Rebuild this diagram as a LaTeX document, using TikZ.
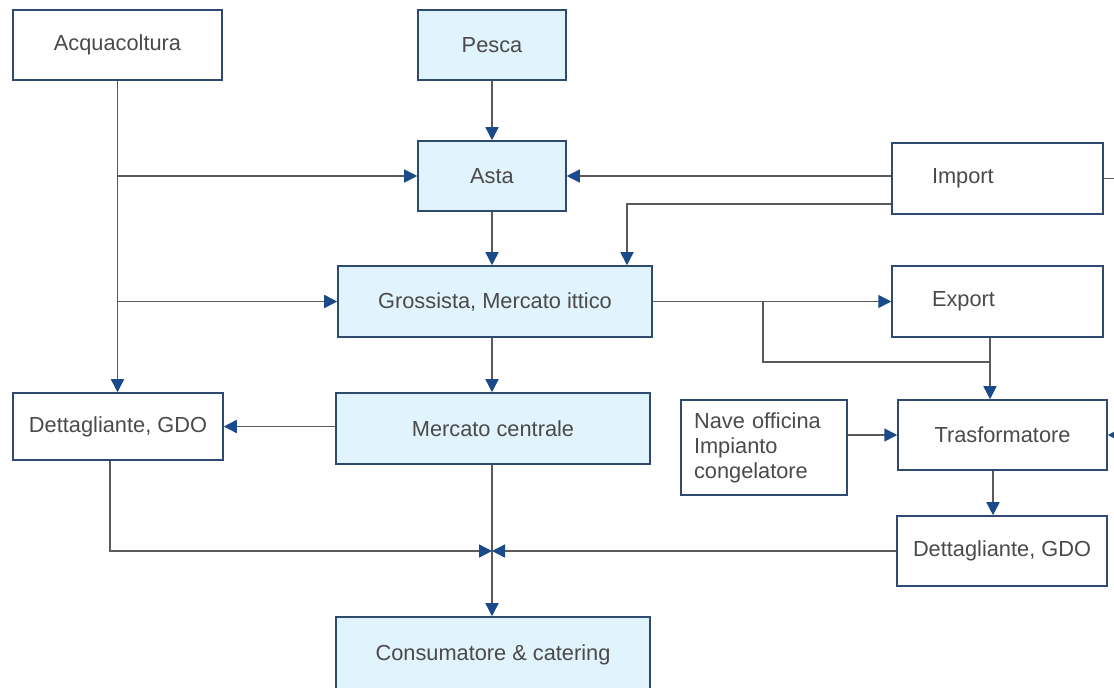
\documentclass[tikz,border=0pt]{standalone}
\usepackage{fontspec}
\setmainfont{Liberation Sans}
\usetikzlibrary{arrows.meta}

\definecolor{boxline}{HTML}{2E4A6E}
\definecolor{boxfill}{HTML}{E1F3FC}
\definecolor{flowline}{HTML}{5A5A5A}
\definecolor{tipblue}{HTML}{1B4A8A}
\definecolor{txt}{HTML}{4A4A4A}

\begin{document}
\begin{tikzpicture}[
        x=0.02cm, y=-0.02cm,
        stage/.style={draw=boxline, line width=0.9pt, fill=white, text=txt,
            font=\fontsize{12.4}{14.2}\selectfont, inner sep=0pt},
        main/.style={stage, fill=boxfill},
        sidebox/.style={stage, align=left, text width=2.62cm, inner xsep=0.8cm},
        flow/.style={draw=flowline, line width=0.9pt,
            -{Triangle[length=0.26cm, width=0.26cm, color=tipblue]}},
        link/.style={draw=flowline, line width=0.9pt}
    ]

    \useasboundingbox (0,0) rectangle (1114,687);

    % top row
    \node[stage, minimum width=4.18cm, minimum height=1.40cm] (acq) at (117.5,45) {Acquacoltura};
    \node[main, minimum width=2.96cm, minimum height=1.40cm] (pesca) at (492,45) {Pesca};
    \node[main, minimum width=2.96cm, minimum height=1.40cm] (asta) at (492,176) {Asta};
    \node[sidebox, minimum height=1.42cm] (import) at (997.5,178.5) {Import};

    % middle
    \node[main, minimum width=6.28cm, minimum height=1.42cm] (gross) at (495,301.5) {Grossista, Mercato ittico};
    \node[sidebox, minimum height=1.42cm] (export) at (997.5,301.5) {Export};
    \node[stage, minimum width=4.20cm, minimum height=1.34cm] (dettL) at (118,426.5) {Dettagliante, GDO};
    \node[main, minimum width=6.28cm, minimum height=1.42cm] (merc) at (493,428.5) {Mercato centrale};
    \node[stage, align=left, text width=2.80cm, inner xsep=0.26cm, minimum height=1.90cm] (nave) at (764,447.5) {Nave officina\\Impianto\\congelatore};
    \node[stage, minimum width=4.18cm, minimum height=1.40cm] (trasf) at (1002.5,435) {Trasformatore};

    % bottom
    \node[stage, minimum width=4.20cm, minimum height=1.40cm] (dettR) at (1002,551) {Dettagliante, GDO};
    \node[main, minimum width=6.28cm, minimum height=1.50cm] (cons) at (493,654.5) {Consumatore \& catering};

    \coordinate (split) at (763,301.5);
    \coordinate (merge) at (990,362);
    \coordinate (join) at (492,551);
    \coordinate (offI) at (1125,178.5);
    \coordinate (offT) at (1125,435);

    % connectors
    \draw[flow] (pesca) -- (asta);
    \draw[flow] (acq.south) -- (acq.south |- dettL.north);
    \draw[flow] (acq.south |- asta.west) -- (asta.west);
    \draw[flow] (acq.south |- gross.west) -- (gross.west);
    \draw[flow] (import.west |- asta.east) -- (asta.east);
    \draw[flow] ([yshift=0.22cm]import.south west) -| ([xshift=2.64cm]gross.north);
    \draw[link] (import.east) -- (offI);
    \draw[flow] (asta.south) -- (asta.south |- gross.north);
    \draw[flow] (gross.east) -- (export.west);
    \draw[link] (split) |- (merge);
    \draw[link] (export.south -| merge) -- (merge);
    \draw[flow] (merge) -- (merge |- trasf.north);
    \draw[flow] (asta.south |- gross.south) -- (asta.south |- merc.north);
    \draw[flow] (merc.west |- dettL.east) -- (dettL.east);
    \draw[flow] (nave.east |- trasf.west) -- (trasf.west);
    \draw[flow] (offT) -- (trasf.east);
    \draw[flow] ([xshift=-0.19cm]trasf.south) -- ([xshift=-0.19cm]trasf.south |- dettR.north);
    \draw[flow] (asta.south |- merc.south) -- (asta.south |- cons.north);
    \draw[flow] ([xshift=-0.16cm]dettL.south) |- (join);
    \draw[flow] (dettR.west) -- (join);
\end{tikzpicture}
\end{document}
